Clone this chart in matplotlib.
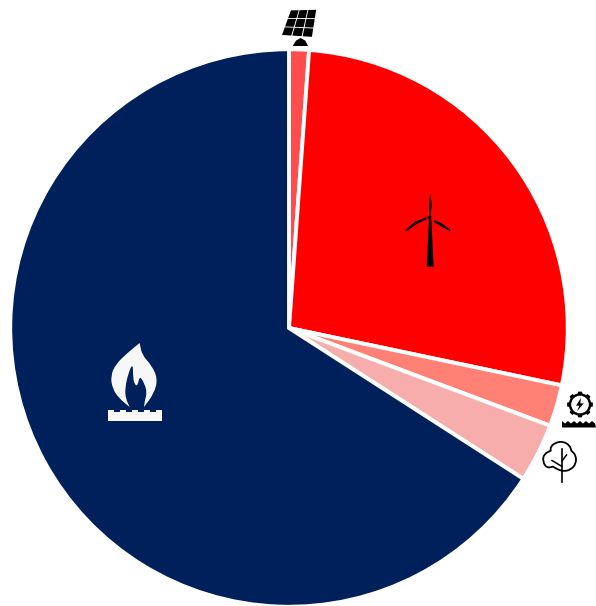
import numpy as np
import matplotlib
matplotlib.use("Agg")
import matplotlib.pyplot as plt
from matplotlib.path import Path
from matplotlib.patches import PathPatch, Polygon, Circle

# share of generation, clockwise from the top
sources = ["Solar", "Wind", "Hydro", "Biomass", "Gas"]
shares = [1.15, 27.15, 2.4, 3.4, 65.9]
colors = ["#ff4d4d", "#ff0000", "#ff8075", "#f8adad", "#00205b"]

W, H = 596, 606
fig = plt.figure(figsize=(W / 100, H / 100), dpi=100)

# pie axes, centre at pixel (289, 328), the white edge eats a bit of the radius
ax = fig.add_axes([10.25 / W, -0.75 / H, 557.5 / W, 557.5 / H])
ax.pie(shares, colors=colors, startangle=90, counterclock=False, radius=1,
       wedgeprops=dict(edgecolor="white", linewidth=2.8))
ax.set_xlim(-1, 1)
ax.set_ylim(-1, 1)
ax.axis("off")

# overlay in pixel coords for the icons
ic = fig.add_axes([0, 0, 1, 1])
ic.set_xlim(0, W)
ic.set_ylim(H, 0)
ic.axis("off")


def crop(pts, x0, y0):
    return [(x0 + p[0] / 3, y0 + p[1] / 3) for p in pts]


def smooth(pts):
    # closed quadratic curve through the midpoints
    pts = np.array(pts, dtype=float)
    mids = (pts + np.roll(pts, -1, axis=0)) / 2
    verts = [mids[-1]]
    codes = [Path.MOVETO]
    for p, m in zip(pts, mids):
        verts += [p, m]
        codes += [Path.CURVE3, Path.CURVE3]
    return Path(verts, codes)


# solar panel
tl, tr, br, bl = [np.array(p) for p in crop([(62, 30), (140, 28), (127, 112), (34, 106)], 270, 0)]
for i in range(3):
    for j in range(3):
        cell = []
        for u, v in [(i + .05, j + .05), (i + .95, j + .05), (i + .95, j + .95), (i + .05, j + .95)]:
            u, v = u / 3, v / 3
            cell.append((1 - v) * ((1 - u) * tl + u * tr) + v * ((1 - u) * bl + u * br))
        ic.add_patch(Polygon(cell, fc="black", ec="none"))
ic.add_patch(Polygon(crop([(68, 138), (114, 138), (106, 122), (92, 114), (78, 122)], 270, 0), fc="black", ec="none"))

# wind turbine
ic.add_patch(Polygon(crop([(110, 260), (131, 260), (124, 118), (117, 118)], 390, 180), fc="black", ec="none"))
ic.add_patch(Polygon(crop([(121, 38), (125, 75), (122, 108), (118, 108), (117, 75)], 390, 180), fc="black", ec="none"))
ic.add_patch(Polygon(crop([(47, 150), (75, 125), (108, 112), (110, 118), (80, 132), (50, 154)], 390, 180), fc="black", ec="none"))
ic.add_patch(Polygon(crop([(182, 150), (155, 130), (133, 120), (131, 126), (150, 137), (180, 154)], 390, 180), fc="black", ec="none"))
ic.add_patch(Circle((429.5, 217.5), 2, fc="black", ec="none"))

# hydro
gx, gy = 580, 404.5
ang = np.linspace(0, 2 * np.pi, 120, endpoint=False)
rad = 11.2 + 1.7 * (np.cos(8 * ang) > 0)
ic.add_patch(Polygon(np.c_[gx + rad * np.cos(ang), gy + rad * np.sin(ang)], fc="black", ec="none"))
ic.add_patch(Circle((gx, gy), 8.8, fc="white", ec="none"))
ic.add_patch(Polygon(crop([(183, 84), (168, 107), (178, 107), (171, 124), (191, 100), (181, 100)], 520, 370), fc="black", ec="none"))
base_top = []
for k, x in enumerate(np.arange(562, 597, 3)):
    base_top.append((x, 423.5 if k % 2 else 421))
ic.add_patch(Polygon(base_top + [(596, 427.5), (562, 427.5)], fc="black", ec="none"))

# biomass tree
canopy = crop([(52, 14), (75, 10), (95, 22), (100, 38), (100, 38), (114, 52), (114, 78), (98, 95), (78, 100), (60, 95),
               (45, 86), (45, 86), (26, 90), (14, 70), (18, 48), (38, 38), (38, 38), (38, 26)], 538, 438)
ic.add_patch(PathPatch(smooth(canopy), fc="none", ec="black", lw=1.3))
ic.plot([562, 562], [449, 481.5], color="black", lw=1.2)
ic.plot([562, 566.5], [461, 455], color="black", lw=1.1)
ic.plot([562, 552], [466.5, 460.5], color="black", lw=1.1)

# gas flame
flame = crop([(134, 24), (134, 24), (141, 60), (169, 90), (188, 130), (178, 174), (147, 216), (147, 216), (149, 200),
              (156, 172), (148, 145), (134, 122), (128, 152), (120, 150), (114, 130), (114, 84), (100, 114), (90, 160),
              (92, 190), (104, 216), (104, 216), (72, 190), (52, 160), (47, 122), (62, 88), (97, 54)], 95, 335)
ic.add_patch(PathPatch(smooth(flame), fc="#f7f7f7", ec="none"))
ic.add_patch(Polygon(crop([(38, 226), (56, 226), (56, 232), (74, 232), (74, 226), (92, 226), (92, 232), (110, 232),
                           (110, 226), (128, 226), (128, 232), (148, 232), (148, 226), (166, 226), (166, 232),
                           (184, 232), (184, 226), (202, 226), (202, 258), (38, 258)], 95, 335),
                     fc="#f7f7f7", ec="none"))

fig.savefig("out.png", dpi=100, facecolor="white")
